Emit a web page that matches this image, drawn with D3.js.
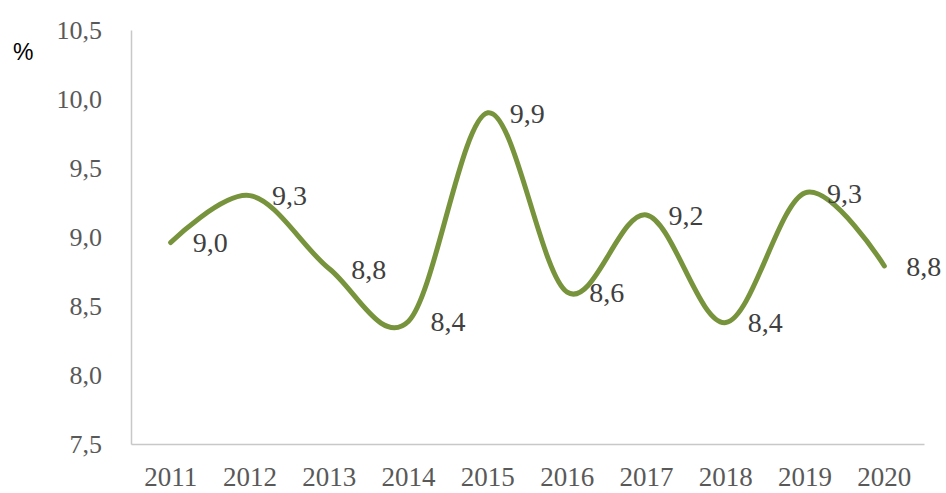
<!DOCTYPE html>
<html>
<head>
<meta charset="utf-8">
<script src="https://cdn.jsdelivr.net/npm/d3@7"></script>
<style>
  body { margin: 0; background: #fff; }
  .serif { font-family: "Liberation Serif", "Times New Roman", Times, serif; }
</style>
</head>
<body>
<div id="chart"></div>
<script>
var width = 946;
var height = 493;

var years = ["2011", "2012", "2013", "2014", "2015", "2016", "2017", "2018", "2019", "2020"];
var values = [8.96, 9.30, 8.77, 8.39, 9.90, 8.60, 9.16, 8.38, 9.32, 8.79];
var yTicks = [7.5, 8.0, 8.5, 9.0, 9.5, 10.0, 10.5];

var locale = d3.formatLocale({ decimal: ",", thousands: " ", grouping: [3], currency: ["", ""] });
var fmt = locale.format(".1f");

var svg = d3.select("#chart").append("svg")
  .attr("width", width)
  .attr("height", height)

var x = d3.scaleBand().domain(years).range([131, 924]).padding(0)
var y = d3.scaleLinear().domain([7.5, 10.5]).range([444, 30])

function cx(d, i) { return x(years[i]) + x.bandwidth() / 2 }

// y axis
var yAxis = svg.append("g")
  .attr("transform", "translate(131,0)")
  .call(d3.axisLeft(y).tickValues(yTicks).tickSize(0).tickSizeOuter(0).tickPadding(29).tickFormat(fmt))
yAxis.attr("font-family", null)
yAxis.select(".domain").attr("stroke", "#c8c8c8").attr("stroke-width", 1.5)
yAxis.selectAll("text")
  .attr("class", "serif")
  .attr("font-size", "26px")
  .attr("fill", "#595959")
  .attr("dy", "0.33em")

// x axis
var xAxis = svg.append("g")
  .attr("transform", "translate(0,444)")
  .call(d3.axisBottom(x).tickSize(0).tickSizeOuter(0))
xAxis.attr("font-family", null)
xAxis.select(".domain").attr("stroke", "#c8c8c8").attr("stroke-width", 1.5)
xAxis.selectAll("text")
  .attr("class", "serif")
  .attr("font-size", "27px")
  .attr("fill", "#595959")
  .attr("y", 42)
  .attr("dy", 0)

// unit
svg.append("text")
  .attr("x", 13)
  .attr("y", 60)
  .attr("font-family", "Liberation Sans, Arial, sans-serif")
  .attr("font-size", "23px")
  .attr("fill", "#000")
  .text("%")

// line
var line = d3.line()
  .x(function(d, i) { return cx(d, i) })
  .y(function(d) { return y(d) })
  .curve(d3.curveCardinal.tension(0))

svg.append("path")
  .datum(values)
  .attr("d", line)
  .attr("fill", "none")
  .attr("stroke", "#77933C")
  .attr("stroke-width", 5)
  .attr("stroke-linecap", "round")

// data labels
svg.selectAll(".label")
  .data(values)
  .enter().append("text")
  .attr("class", "label serif")
  .attr("x", function(d, i) { return cx(d, i) + 22 })
  .attr("y", function(d) { return y(d) })
  .attr("dy", "0.35em")
  .attr("font-size", "28px")
  .attr("fill", "#404040")
  .text(function(d) { return fmt(d) })
</script>
</body>
</html>
